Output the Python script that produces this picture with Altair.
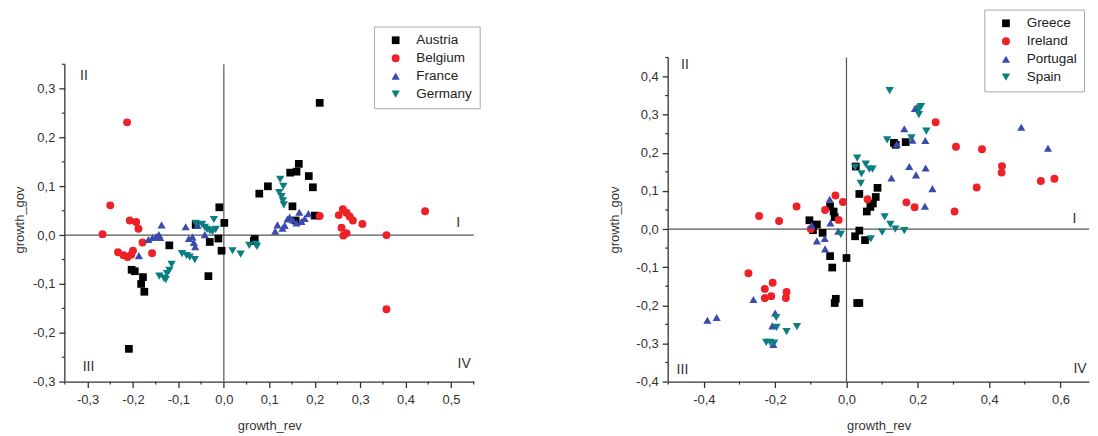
import altair as alt
import pandas as pd

# ---------------- Left panel data ----------------
austria_x = [0.211, 0.165, 0.160, 0.146, 0.187, 0.196, 0.097, 0.078, 0.151, 0.158, 0.200, 0.068, 0.066,
             -0.010, 0.001, -0.005, -0.012, -0.031, -0.034, -0.120, -0.203, -0.196, -0.178, -0.182, -0.175,
             -0.209, -0.062]
austria_y = [0.271, 0.146, 0.130, 0.128, 0.121, 0.098, 0.100, 0.085, 0.059, 0.030, 0.040, -0.008, -0.012,
             0.057, 0.025, -0.032, -0.007, -0.014, -0.084, -0.021, -0.071, -0.074, -0.086, -0.100, -0.116,
             -0.233, 0.021]
belgium_x = [-0.213, -0.250, -0.267, -0.207, -0.193, -0.188, -0.179, -0.158, -0.233, -0.221, -0.212, -0.204,
             -0.200, 0.211, 0.253, 0.262, 0.270, 0.277, 0.284, 0.305, 0.259, 0.263, 0.270, 0.358, 0.443, 0.358]
belgium_y = [0.231, 0.061, 0.002, 0.030, 0.027, 0.013, -0.015, -0.037, -0.035, -0.041, -0.045, -0.040,
             -0.032, 0.039, 0.041, 0.053, 0.046, 0.038, 0.030, 0.023, 0.015, -0.001, 0.004, 0.000, 0.049, -0.152]
france_x = [-0.137, -0.166, -0.157, -0.149, -0.143, -0.140, -0.187, -0.084, -0.077, -0.069, -0.066, -0.063,
            -0.042, -0.058, 0.113, 0.118, 0.129, 0.134, 0.140, 0.145, 0.152, 0.166, 0.171, 0.178, 0.186, 0.160]
france_y = [0.021, -0.009, -0.005, -0.003, 0.001, -0.005, -0.042, 0.017, -0.007, -0.004, -0.015, -0.024,
            0.001, 0.020, 0.008, 0.021, 0.014, 0.020, 0.033, 0.037, 0.031, 0.047, 0.028, 0.034, 0.044, 0.025]
germany_x = [-0.142, -0.132, -0.128, -0.125, -0.120, -0.115, -0.092, -0.082, -0.075, -0.064, -0.062, -0.048,
             -0.042, -0.037, -0.031, -0.025, -0.022, -0.018, 0.019, 0.037, 0.056, 0.070, 0.073, 0.124, 0.131,
             0.122, 0.127, 0.130, 0.132]
germany_y = [-0.084, -0.088, -0.091, -0.079, -0.072, -0.060, -0.038, -0.042, -0.045, -0.050, 0.024, 0.022,
             0.016, 0.012, 0.009, 0.007, 0.032, 0.012, -0.032, -0.039, -0.021, -0.019, -0.023, 0.114, 0.100,
             0.087, 0.079, 0.070, 0.062]

# ---------------- Right panel data ----------------
greece_x = [0.133, 0.138, 0.166, 0.026, 0.036, 0.087, 0.082, 0.074, 0.067, 0.057, 0.036, 0.024, 0.052, 0.000,
            -0.040, -0.046, -0.030, -0.033, 0.030, 0.036, -0.104, -0.083, -0.094, -0.067, -0.046, -0.036, -0.033]
greece_y = [0.226, 0.221, 0.228, 0.164, 0.092, 0.108, 0.084, 0.067, 0.058, 0.046, -0.004, -0.019, -0.029,
            -0.076, -0.101, -0.071, -0.183, -0.194, -0.194, -0.194, 0.023, 0.012, -0.003, -0.010, 0.059, 0.046,
            0.031]
ireland_x = [0.250, 0.307, 0.380, 0.436, 0.435, 0.365, 0.545, 0.583, 0.303, 0.168, 0.191, 0.059, -0.031,
             -0.010, -0.060, -0.022, -0.100, -0.140, -0.189, -0.245, -0.275, -0.229, -0.207, -0.229, -0.211,
             -0.168, -0.170]
ireland_y = [0.280, 0.216, 0.209, 0.165, 0.148, 0.109, 0.126, 0.132, 0.046, 0.070, 0.057, 0.078, 0.088,
             0.071, 0.050, 0.024, 0.000, 0.059, 0.021, 0.034, -0.116, -0.157, -0.141, -0.181, -0.176, -0.165,
             -0.181]
portugal_x = [0.490, 0.565, 0.192, 0.198, 0.162, 0.185, 0.221, 0.141, 0.176, 0.195, 0.222, 0.126, 0.241, 0.220,
              -0.047, -0.098, -0.045, -0.023, -0.083, -0.061, -0.060, -0.261, -0.390, -0.364, -0.200, -0.208,
              -0.205]
portugal_y = [0.267, 0.212, 0.316, 0.320, 0.263, 0.233, 0.232, 0.223, 0.164, 0.142, 0.160, 0.134, 0.106, 0.060,
              0.078, 0.010, 0.016, -0.006, -0.031, -0.025, -0.052, -0.185, -0.239, -0.232, -0.220, -0.254,
              -0.303]
spain_x = [0.121, 0.209, 0.202, 0.203, 0.224, 0.182, 0.114, 0.030, 0.024, 0.042, 0.054, 0.064, 0.073, 0.040,
           0.107, 0.123, 0.137, 0.162, 0.100, 0.068, -0.016, -0.197, -0.196, -0.168, -0.139, -0.225, -0.214,
           -0.203]
spain_y = [0.363, 0.321, 0.313, 0.300, 0.257, 0.239, 0.234, 0.186, 0.162, 0.145, 0.170, 0.157, 0.157, 0.120,
           0.032, 0.012, 0.000, -0.004, -0.008, -0.026, -0.014, -0.232, -0.258, -0.269, -0.256, -0.297, -0.297,
           -0.299]

left_names = ["Austria", "Belgium", "France", "Germany"]
right_names = ["Greece", "Ireland", "Portugal", "Spain"]
colors = ["#000000", "#ee2128", "#3a4aae", "#0b7f80"]
shapes = ["square", "circle", "triangle-up", "triangle-down"]
sizes = [60, 70, 110, 110]

quad_text = ["II", "I", "III", "IV"]
left_quad_x = [-0.308, 0.516, -0.298, 0.529]
left_quad_y = [0.327, 0.025, -0.271, -0.264]
right_quad_x = [-0.453, 0.639, -0.460, 0.655]
right_quad_y = [0.429, 0.025, -0.369, -0.366]

left_xdom = [-0.35, 0.55]
left_ydom = [-0.3, 0.364]      # scale range; axis line is drawn from -0.3 to 0.35
left_yline = [-0.3, 0.35]
left_xmaj = [-0.3, -0.2, -0.1, 0.0, 0.1, 0.2, 0.3, 0.4, 0.5]
left_ymaj = [-0.3, -0.2, -0.1, 0.0, 0.1, 0.2, 0.3]
left_xmin = [-0.35, -0.25, -0.15, -0.05, 0.05, 0.15, 0.25, 0.35, 0.45, 0.55]
left_ymin = [-0.25, -0.15, -0.05, 0.05, 0.15, 0.25, 0.35]

right_xdom = [-0.5, 0.68]
right_ydom = [-0.4, 0.45]
right_yline = [-0.4, 0.45]
right_xmaj = [-0.4, -0.2, 0.0, 0.2, 0.4, 0.6]
right_ymaj = [-0.4, -0.3, -0.2, -0.1, 0.0, 0.1, 0.2, 0.3, 0.4]
right_xmin = [-0.5, -0.3, -0.1, 0.1, 0.3, 0.5]
right_ymin = [-0.35, -0.25, -0.15, -0.05, 0.05, 0.15, 0.25, 0.35, 0.45]

FONT = "Liberation Sans"
AX = "#333333"
LBL = "(datum.value < -0.00001 ? '-' : '') + replace(format(abs(datum.value), '.1f'), '.', ',')"


def panel(names, xs, ys, xdom, ydom, yline, xmaj, ymaj, xmin, ymin, qx, qy, w, h, lx, ly, ytp):
    rows = []
    for n, xv, yv in zip(names, xs, ys):
        for a, b in zip(xv, yv):
            rows.append({"country": n, "x": a, "y": b})
    df = pd.DataFrame(rows)
    xs_ = alt.Scale(domain=xdom, nice=False, zero=False)
    ys_ = alt.Scale(domain=ydom, nice=False, zero=False)
    xax = alt.Axis(values=xmaj, labelExpr=LBL, grid=False, tickSize=6, tickWidth=1.3,
                   tickColor=AX, domainColor=AX, domainWidth=1.3, labelFont=FONT,
                   labelFontSize=13, labelColor=AX, labelPadding=6, titleFont=FONT,
                   titleFontSize=13, titleFontWeight="normal", titleColor=AX, titlePadding=13)
    yax = alt.Axis(values=ymaj, labelExpr=LBL, grid=False, tickSize=6, tickWidth=1.3, domain=False,
                   tickColor=AX, labelFont=FONT,
                   labelFontSize=13, labelColor=AX, labelPadding=4, titleFont=FONT,
                   titleFontSize=13, titleFontWeight="normal", titleColor=AX, titlePadding=ytp)

    def X(f):
        return alt.X(f, scale=xs_, axis=xax, title="growth_rev")

    def Y(f):
        return alt.Y(f, scale=ys_, axis=yax, title="growth_gov")

    leg = alt.Legend(title=None, orient="none", legendX=lx, legendY=ly, strokeColor="#aaaaaa",
                     fillColor="white", padding=7, labelFont=FONT, labelFontSize=13.5, labelColor="#222222",
                     symbolSize=60, rowPadding=3, labelOffset=14, symbolOffset=8, symbolStrokeWidth=0)
    pts = alt.Chart(df).mark_point(filled=True, opacity=1).encode(
        x=X("x:Q"), y=Y("y:Q"),
        color=alt.Color("country:N", scale=alt.Scale(domain=names, range=colors), legend=leg),
        shape=alt.Shape("country:N", scale=alt.Scale(domain=names, range=shapes), legend=leg),
        size=alt.Size("country:N", scale=alt.Scale(domain=names, range=sizes), legend=None),
    )
    # left axis line
    yl = alt.Chart(pd.DataFrame({"x": [xdom[0]], "y": [yline[0]], "y2": [yline[1]]})).mark_rule(
        color=AX, strokeWidth=1.3).encode(x=X("x:Q"), y=Y("y:Q"), y2="y2:Q")
    # zero lines
    vz = alt.Chart(pd.DataFrame({"x": [0.0], "y": [yline[0]], "y2": [yline[1]]})).mark_rule(
        color="#555555", strokeWidth=1.2).encode(x=X("x:Q"), y=Y("y:Q"), y2="y2:Q")
    hz = alt.Chart(pd.DataFrame({"y": [0.0], "x": [xdom[0]], "x2": [xdom[1]]})).mark_rule(
        color="#555555", strokeWidth=1.2).encode(y=Y("y:Q"), x=X("x:Q"), x2="x2:Q")
    # minor ticks
    mx = alt.Chart(pd.DataFrame({"x": xmin})).mark_rule(color=AX, strokeWidth=1.2).encode(
        x=X("x:Q"), y=alt.value(h), y2=alt.value(h + 3))
    my = alt.Chart(pd.DataFrame({"y": ymin})).mark_rule(color=AX, strokeWidth=1.2).encode(
        y=Y("y:Q"), x=alt.value(-3), x2=alt.value(0))
    qt = alt.Chart(pd.DataFrame({"x": qx, "y": qy, "t": quad_text})).mark_text(
        font=FONT, fontSize=14, color="#333333").encode(x=X("x:Q"), y=Y("y:Q"), text="t:N")
    return alt.layer(yl, vz, hz, mx, my, qt, pts).properties(width=w, height=h)


left = panel(left_names, [austria_x, belgium_x, france_x, germany_x],
             [austria_y, belgium_y, france_y, germany_y],
             left_xdom, left_ydom, left_yline, left_xmaj, left_ymaj, left_xmin, left_ymin,
             left_quad_x, left_quad_y, 410, 325, 310, -31, 6)
right = panel(right_names, [greece_x, ireland_x, portugal_x, spain_x],
              [greece_y, ireland_y, portugal_y, spain_y],
              right_xdom, right_ydom, right_yline, right_xmaj, right_ymaj, right_xmin, right_ymin,
              right_quad_x, right_quad_y, 422, 325, 317, -48, 14)

chart = alt.hconcat(left, right, spacing=128).resolve_scale(
    x="independent", y="independent", color="independent", shape="independent", size="independent"
).resolve_legend(color="independent", shape="independent").properties(
    padding={"left": 5, "top": 0, "right": 0, "bottom": 0}
).configure_view(stroke=None)

chart.save("out.html", embed_options={"renderer": "svg", "actions": False})
